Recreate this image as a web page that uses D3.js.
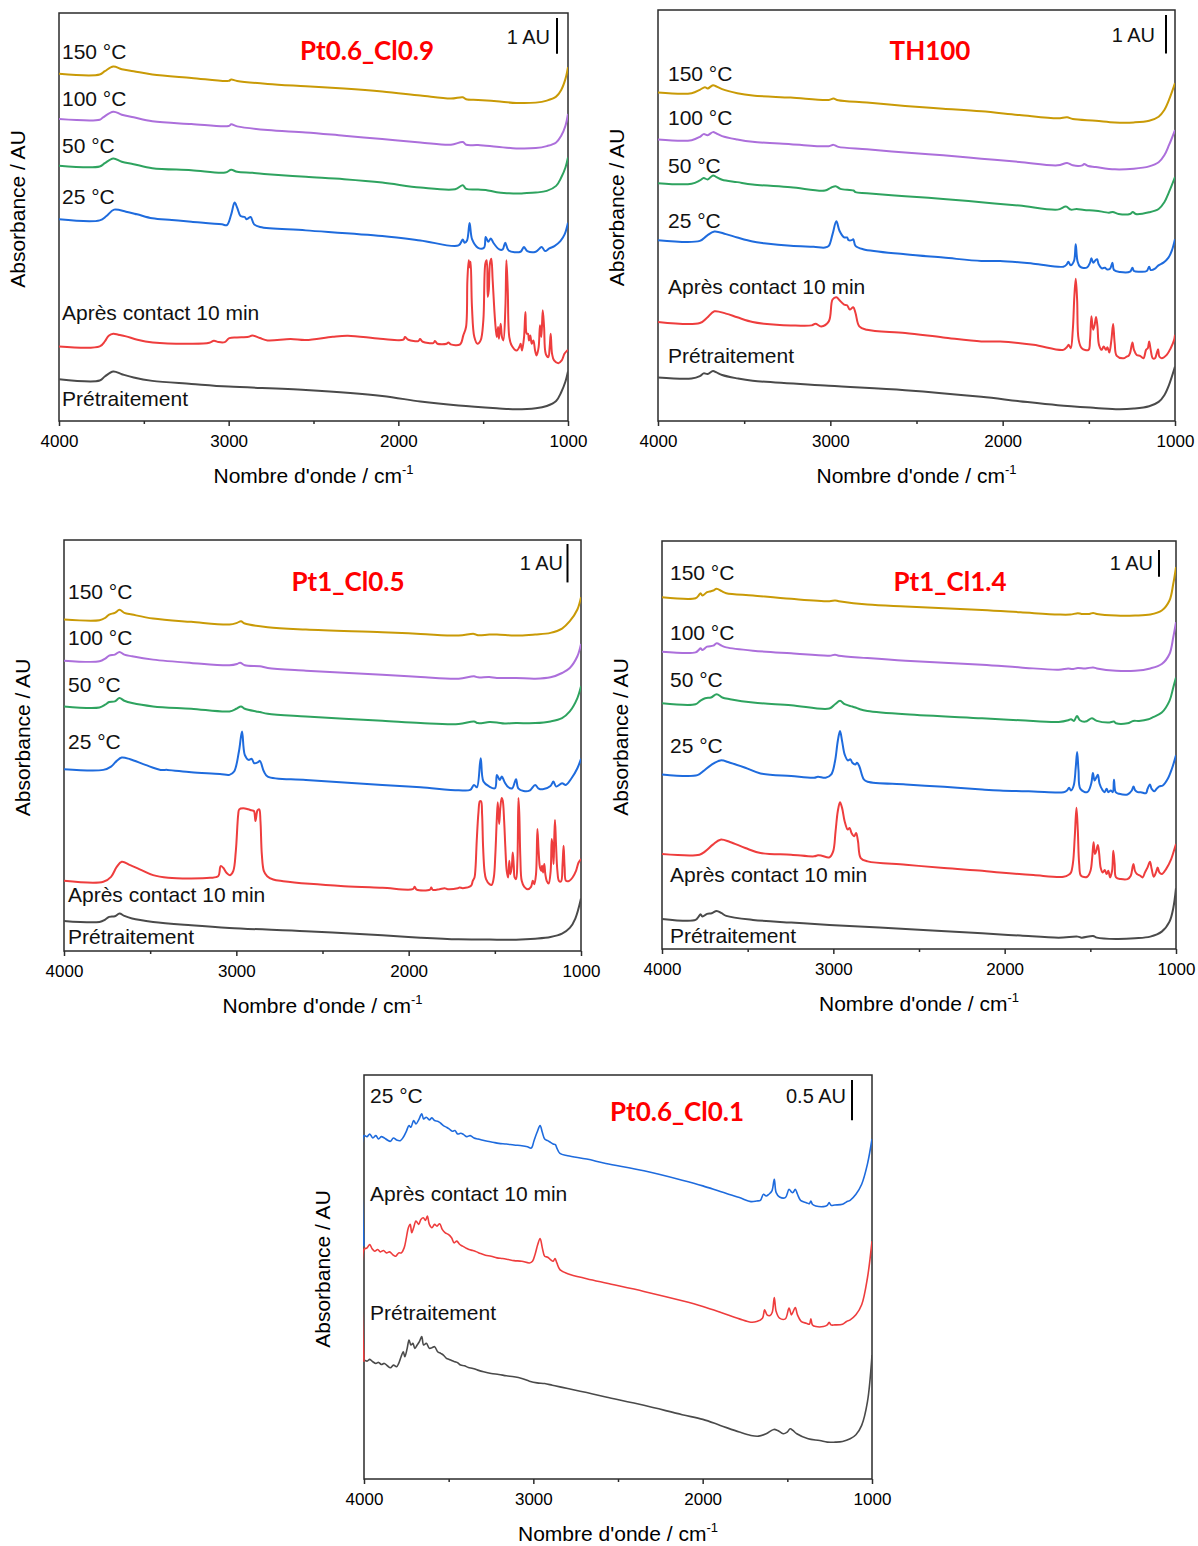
<!DOCTYPE html>
<html><head><meta charset="utf-8">
<script src="https://cdn.jsdelivr.net/npm/d3@7"></script>
<style>body{margin:0;background:#fff}</style>
</head><body>
<svg id="c" width="1198" height="1546"></svg>
<script>
// ---------- shared axis / labels ----------
const xTicks = [4000, 3000, 2000, 1000];
const xMinorTicks = [3500, 2500, 1500];
const seriesLabels = ["150 °C", "100 °C", "50 °C", "25 °C", "Après contact 10 min", "Prétraitement"];
const seriesLabelsP5 = ["25 °C", "Après contact 10 min", "Prétraitement"];
const panelTitles = ["Pt0.6_Cl0.9", "TH100", "Pt1_Cl0.5", "Pt1_Cl1.4", "Pt0.6_Cl0.1"];
const scaleBarLabels = ["1 AU", "1 AU", "1 AU", "1 AU", "0.5 AU"];
const scaleBarLengths = [1.07, 1.15, 1.15, 0.80, 1.20]; // in panel data units
const yMax = [12.20, 12.25, 12.30, 12.20, 12.06];

// ---------- Panel 1 : Pt0.6_Cl0.9 ----------
const p1_150 = [[4000,10.38],[3760,10.36],[3730,10.46],[3680,10.60],[3630,10.52],[3560,10.46],[3450,10.36],[3220,10.26],[3000,10.17],[2985,10.21],[2950,10.17],[2770,10.08],[2545,10.01],[2320,9.94],[2095,9.85],[1870,9.73],[1690,9.64],[1620,9.68],[1600,9.62],[1530,9.60],[1420,9.56],[1305,9.51],[1190,9.52],[1125,9.58],[1070,9.70],[1040,9.90],[1015,10.23],[1000,10.58]];
const p1_100 = [[4000,9.03],[3760,9.01],[3740,9.08],[3680,9.25],[3630,9.16],[3560,9.08],[3450,8.96],[3220,8.88],[3000,8.82],[2985,8.87],[2950,8.81],[2770,8.70],[2545,8.63],[2320,8.53],[2095,8.43],[1870,8.33],[1690,8.26],[1620,8.34],[1600,8.26],[1530,8.25],[1420,8.20],[1305,8.15],[1190,8.16],[1125,8.22],[1070,8.33],[1040,8.53],[1015,8.83],[1000,9.18]];
const p1_50 = [[4000,7.63],[3760,7.61],[3730,7.71],[3680,7.85],[3630,7.75],[3560,7.68],[3450,7.56],[3220,7.50],[3020,7.43],[2985,7.51],[2950,7.45],[2860,7.42],[2770,7.38],[2545,7.30],[2320,7.23],[2095,7.13],[1870,6.98],[1665,6.93],[1620,7.05],[1600,6.94],[1530,6.92],[1485,6.91],[1420,6.84],[1350,6.81],[1305,6.80],[1260,6.81],[1190,6.83],[1125,6.88],[1070,7.03],[1040,7.28],[1015,7.58],[1000,7.88]];
const p1_25 = [[4000,6.03],[3760,6.00],[3720,6.13],[3675,6.32],[3605,6.26],[3540,6.18],[3450,6.06],[3335,6.01],[3220,5.96],[3040,5.88],[3010,5.86],[2985,6.18],[2965,6.53],[2950,6.38],[2930,6.13],[2905,6.10],[2895,6.03],[2885,6.06],[2870,6.10],[2850,5.88],[2815,5.80],[2545,5.70],[2095,5.53],[1870,5.40],[1645,5.25],[1620,5.43],[1610,5.33],[1595,5.40],[1580,5.92],[1565,5.43],[1530,5.18],[1495,5.18],[1485,5.50],[1470,5.36],[1455,5.46],[1440,5.33],[1405,5.13],[1385,5.13],[1370,5.33],[1350,5.10],[1280,5.06],[1260,5.20],[1240,5.08],[1190,5.06],[1155,5.20],[1135,5.08],[1110,5.16],[1080,5.23],[1045,5.38],[1020,5.58],[1000,5.93]];
const p1_contact = [[4000,2.23],[3760,2.23],[3730,2.38],[3707,2.55],[3680,2.61],[3650,2.58],[3605,2.53],[3538,2.43],[3447,2.35],[3222,2.31],[3114,2.34],[3087,2.40],[3060,2.36],[3023,2.36],[2996,2.48],[2951,2.50],[2883,2.52],[2861,2.56],[2816,2.48],[2771,2.41],[2635,2.45],[2545,2.42],[2387,2.52],[2297,2.55],[2108,2.46],[1970,2.43],[1961,2.51],[1941,2.43],[1882,2.39],[1872,2.45],[1856,2.37],[1794,2.33],[1784,2.39],[1770,2.31],[1715,2.31],[1705,2.35],[1691,2.29],[1636,2.29],[1617,2.56],[1601,2.81],[1593,4.21],[1585,4.81],[1579,4.59],[1574,4.76],[1566,3.41],[1552,2.51],[1534,2.31],[1515,2.41],[1499,3.01],[1487,4.71],[1479,4.81],[1473,3.71],[1467,3.91],[1460,4.71],[1452,4.85],[1444,4.21],[1430,3.01],[1420,2.51],[1412,2.81],[1407,2.46],[1397,2.91],[1389,2.51],[1381,2.41],[1369,3.41],[1363,4.81],[1355,3.91],[1346,2.51],[1332,2.26],[1302,2.11],[1287,2.21],[1279,2.31],[1271,2.11],[1259,2.51],[1251,3.26],[1243,2.61],[1236,2.61],[1230,2.41],[1222,2.56],[1214,2.31],[1204,2.41],[1194,2.11],[1185,1.96],[1173,2.21],[1165,2.86],[1157,2.51],[1149,3.31],[1141,2.81],[1131,2.01],[1116,1.91],[1108,2.21],[1102,2.61],[1094,2.01],[1082,1.81],[1057,1.73],[1037,1.81],[1021,2.01],[1008,2.09],[1000,2.12]];
const p1_pretrait = [[4000,1.25],[3760,1.21],[3730,1.33],[3680,1.48],[3630,1.40],[3560,1.30],[3450,1.20],[3220,1.11],[3000,1.03],[2545,0.93],[2095,0.75],[1870,0.58],[1645,0.46],[1420,0.38],[1305,0.35],[1190,0.38],[1125,0.45],[1070,0.60],[1040,0.86],[1015,1.18],[1000,1.48]];

// ---------- Panel 2 : TH100 ----------
const p2_150 = [[4000,9.79],[3805,9.77],[3757,9.87],[3728,9.95],[3712,9.91],[3681,10.01],[3661,9.97],[3628,9.89],[3540,9.77],[3451,9.70],[3230,9.64],[3009,9.57],[2982,9.61],[2954,9.56],[2788,9.49],[2566,9.39],[2345,9.31],[2124,9.23],[1903,9.12],[1681,9.02],[1626,9.05],[1593,9.00],[1460,8.95],[1349,8.90],[1239,8.90],[1150,8.95],[1095,9.07],[1062,9.27],[1035,9.57],[1000,10.07]];
const p2_100 = [[4000,8.39],[3805,8.37],[3757,8.47],[3735,8.55],[3712,8.52],[3681,8.61],[3661,8.57],[3628,8.49],[3540,8.39],[3451,8.32],[3230,8.25],[3009,8.19],[2982,8.23],[2954,8.17],[2788,8.10],[2566,8.00],[2345,7.92],[2124,7.82],[1903,7.72],[1681,7.62],[1626,7.69],[1593,7.62],[1538,7.62],[1527,7.66],[1504,7.60],[1460,7.57],[1349,7.50],[1239,7.52],[1150,7.59],[1095,7.71],[1062,7.92],[1035,8.22],[1000,8.67]];
const p2_50 = [[4000,7.09],[3805,7.07],[3757,7.17],[3735,7.24],[3712,7.20],[3681,7.32],[3661,7.27],[3628,7.19],[3540,7.12],[3451,7.05],[3230,6.97],[3031,6.87],[2998,6.95],[2969,7.00],[2942,6.92],[2865,6.87],[2854,6.82],[2788,6.79],[2566,6.70],[2345,6.62],[2124,6.52],[1903,6.42],[1681,6.30],[1633,6.39],[1604,6.30],[1571,6.32],[1527,6.29],[1460,6.27],[1383,6.21],[1361,6.23],[1327,6.17],[1261,6.17],[1245,6.23],[1228,6.17],[1150,6.22],[1095,6.32],[1062,6.52],[1035,6.82],[1000,7.27]];
const p2_25 = [[4000,5.39],[3757,5.37],[3717,5.52],[3673,5.65],[3606,5.57],[3540,5.47],[3451,5.35],[3385,5.30],[3230,5.22],[3097,5.19],[3031,5.17],[3009,5.22],[2987,5.57],[2965,5.95],[2947,5.67],[2920,5.47],[2903,5.47],[2894,5.39],[2876,5.39],[2867,5.42],[2854,5.22],[2810,5.12],[2566,4.97],[2345,4.87],[2124,4.77],[2015,4.77],[1822,4.69],[1648,4.60],[1628,4.67],[1619,4.75],[1605,4.64],[1586,4.77],[1576,5.27],[1566,4.77],[1551,4.60],[1512,4.57],[1493,4.72],[1485,4.85],[1474,4.72],[1460,4.80],[1452,4.82],[1443,4.67],[1425,4.55],[1406,4.57],[1396,4.52],[1377,4.54],[1363,4.72],[1354,4.50],[1319,4.44],[1261,4.45],[1247,4.57],[1238,4.47],[1203,4.45],[1164,4.47],[1150,4.60],[1141,4.50],[1116,4.54],[1096,4.64],[1067,4.72],[1038,4.87],[1019,5.07],[1000,5.42]];
const p2_contact = [[4000,2.95],[3757,2.92],[3717,3.07],[3673,3.27],[3606,3.20],[3540,3.09],[3451,2.95],[3385,2.90],[3230,2.85],[3108,2.85],[3086,2.90],[3053,2.82],[3009,2.97],[2987,3.62],[2965,3.69],[2947,3.60],[2920,3.47],[2903,3.45],[2887,3.32],[2867,3.39],[2854,3.22],[2832,2.82],[2788,2.72],[2566,2.62],[2345,2.49],[2124,2.37],[2015,2.37],[1822,2.27],[1648,2.12],[1628,2.20],[1617,2.27],[1605,2.17],[1593,2.72],[1584,3.72],[1576,4.24],[1568,3.62],[1559,2.42],[1541,2.17],[1502,2.12],[1493,2.42],[1485,3.12],[1475,2.72],[1466,2.87],[1458,3.10],[1450,2.82],[1441,2.27],[1425,2.12],[1414,2.22],[1400,2.12],[1392,2.20],[1381,2.04],[1369,2.42],[1359,2.89],[1350,2.32],[1338,1.94],[1299,1.87],[1280,1.92],[1270,1.94],[1261,2.02],[1247,2.34],[1238,2.12],[1222,1.97],[1203,1.94],[1183,1.87],[1168,2.12],[1158,2.17],[1150,2.37],[1141,2.12],[1129,1.87],[1116,1.87],[1106,2.02],[1098,2.14],[1091,1.92],[1077,1.87],[1048,1.97],[1025,2.17],[1005,2.42],[1000,2.57]];
const p2_pretrait = [[4000,1.30],[3805,1.27],[3757,1.34],[3735,1.42],[3712,1.40],[3681,1.49],[3661,1.45],[3628,1.37],[3540,1.27],[3451,1.20],[3009,1.05],[2566,0.92],[2124,0.72],[1903,0.59],[1681,0.47],[1460,0.39],[1327,0.35],[1239,0.37],[1150,0.44],[1095,0.57],[1062,0.77],[1035,1.07],[1000,1.62]];

// ---------- Panel 3 : Pt1_Cl0.5 ----------
const p3_150 = [[4000,9.92],[3794,9.90],[3761,9.97],[3738,10.07],[3705,10.12],[3678,10.21],[3650,10.12],[3605,10.07],[3483,9.95],[3262,9.85],[3040,9.77],[2996,9.82],[2973,9.87],[2951,9.80],[2818,9.69],[2596,9.62],[2153,9.54],[1931,9.49],[1710,9.44],[1621,9.49],[1598,9.45],[1532,9.47],[1488,9.47],[1355,9.44],[1266,9.47],[1177,9.52],[1110,9.65],[1065,9.87],[1021,10.22],[1000,10.59]];
const p3_100 = [[4000,8.69],[3794,8.67],[3761,8.75],[3738,8.84],[3705,8.87],[3678,8.95],[3650,8.87],[3605,8.82],[3483,8.72],[3262,8.62],[3040,8.55],[2996,8.59],[2978,8.63],[2951,8.55],[2863,8.52],[2818,8.47],[2596,8.39],[2153,8.27],[1931,8.20],[1710,8.15],[1621,8.22],[1598,8.19],[1532,8.20],[1488,8.17],[1377,8.17],[1266,8.15],[1177,8.19],[1110,8.32],[1065,8.47],[1021,8.82],[1000,9.19]];
const p3_50 = [[4000,7.32],[3794,7.29],[3761,7.37],[3738,7.45],[3705,7.47],[3678,7.57],[3650,7.49],[3605,7.42],[3483,7.32],[3262,7.25],[3040,7.17],[3000,7.25],[2973,7.32],[2951,7.25],[2885,7.17],[2863,7.15],[2818,7.10],[2596,7.02],[2153,6.89],[1931,6.82],[1710,6.79],[1621,6.87],[1598,6.82],[1532,6.85],[1488,6.84],[1443,6.81],[1377,6.82],[1266,6.82],[1177,6.87],[1110,6.97],[1065,7.17],[1021,7.57],[1000,7.92]];
const p3_25 = [[4000,5.44],[3772,5.42],[3727,5.52],[3694,5.69],[3665,5.79],[3616,5.74],[3528,5.57],[3439,5.42],[3399,5.42],[3262,5.35],[3095,5.30],[3040,5.27],[3013,5.37],[2985,5.97],[2967,6.57],[2951,5.87],[2929,5.72],[2911,5.75],[2896,5.62],[2874,5.65],[2863,5.69],[2840,5.37],[2818,5.22],[2596,5.12],[2153,4.97],[1931,4.90],[1710,4.81],[1643,4.82],[1621,4.97],[1604,4.90],[1582,5.77],[1566,5.07],[1532,4.92],[1499,4.87],[1488,5.27],[1472,5.12],[1459,5.22],[1443,5.05],[1421,4.90],[1399,4.87],[1377,5.14],[1364,4.87],[1333,4.79],[1299,4.80],[1266,4.97],[1248,4.87],[1222,4.84],[1177,4.94],[1160,5.07],[1144,4.92],[1110,5.02],[1088,4.97],[1055,5.17],[1021,5.47],[1000,5.75]];
const p3_contact = [[4000,2.10],[3772,2.07],[3727,2.22],[3694,2.52],[3665,2.67],[3616,2.57],[3550,2.42],[3483,2.27],[3395,2.19],[3262,2.17],[3153,2.19],[3105,2.24],[3091,2.54],[3076,2.49],[3057,2.34],[3037,2.27],[3018,2.39],[3003,2.99],[2989,4.09],[2983,4.24],[2960,4.27],[2931,4.24],[2912,4.21],[2898,4.19],[2889,3.89],[2877,4.21],[2867,4.24],[2860,3.89],[2852,2.89],[2840,2.39],[2821,2.24],[2786,2.14],[2728,2.09],[2574,2.01],[2375,1.94],[2153,1.89],[1976,1.85],[1965,1.92],[1954,1.84],[1876,1.84],[1869,1.90],[1860,1.83],[1821,1.85],[1792,1.88],[1773,1.85],[1715,1.88],[1705,1.90],[1686,1.88],[1638,1.95],[1628,2.10],[1618,2.20],[1612,2.50],[1605,3.30],[1595,4.15],[1587,4.48],[1580,4.48],[1574,4.10],[1568,3.10],[1560,2.40],[1551,2.15],[1531,2.00],[1518,1.98],[1506,2.20],[1497,2.90],[1489,3.90],[1483,4.45],[1475,3.80],[1468,4.30],[1460,4.58],[1454,4.50],[1446,3.90],[1439,3.10],[1431,2.40],[1423,2.20],[1416,2.70],[1410,2.30],[1402,2.50],[1396,2.95],[1390,2.55],[1385,2.20],[1377,2.15],[1369,2.70],[1363,4.58],[1358,4.10],[1352,2.80],[1344,2.10],[1329,1.92],[1309,1.85],[1290,1.92],[1280,2.10],[1271,2.00],[1261,2.30],[1253,3.65],[1246,3.00],[1238,2.50],[1230,2.40],[1226,2.55],[1220,2.35],[1213,2.60],[1207,2.30],[1199,2.10],[1188,2.02],[1176,2.40],[1170,3.35],[1164,3.10],[1159,2.60],[1155,3.40],[1151,3.92],[1145,3.20],[1137,2.40],[1128,2.10],[1116,2.08],[1107,2.60],[1101,3.15],[1095,2.50],[1087,2.10],[1068,2.10],[1049,2.20],[1029,2.40],[1014,2.65],[1000,2.75]];
const p3_pretrait = [[4000,0.90],[3794,0.87],[3761,0.94],[3738,1.02],[3705,1.04],[3678,1.12],[3650,1.05],[3605,0.97],[3483,0.87],[3262,0.77],[3040,0.69],[2596,0.59],[2153,0.47],[1931,0.40],[1710,0.35],[1488,0.34],[1377,0.34],[1266,0.37],[1177,0.42],[1110,0.52],[1065,0.69],[1033,0.97],[1000,1.57]];

// ---------- Panel 4 : Pt1_Cl1.4 ----------
const p4_150 = [[4000,10.52],[3804,10.49],[3786,10.57],[3775,10.64],[3764,10.57],[3737,10.67],[3714,10.70],[3701,10.72],[3681,10.77],[3652,10.70],[3625,10.64],[3469,10.57],[3246,10.47],[3023,10.40],[2990,10.42],[2968,10.40],[2801,10.30],[2578,10.24],[2132,10.14],[1908,10.07],[1685,10.00],[1618,10.00],[1573,10.04],[1551,10.02],[1506,10.02],[1484,10.05],[1462,10.02],[1350,9.97],[1239,9.97],[1150,10.00],[1083,10.12],[1038,10.42],[1016,10.92],[1000,11.42]];
const p4_100 = [[4000,8.89],[3804,8.87],[3786,8.94],[3775,8.99],[3764,8.94],[3737,9.04],[3701,9.07],[3681,9.14],[3652,9.07],[3625,9.02],[3469,8.92],[3246,8.84],[3023,8.77],[2990,8.80],[2968,8.77],[2801,8.70],[2578,8.62],[2132,8.50],[1908,8.42],[1685,8.35],[1629,8.39],[1607,8.37],[1573,8.40],[1529,8.39],[1484,8.42],[1462,8.39],[1350,8.32],[1239,8.32],[1150,8.39],[1083,8.52],[1038,8.82],[1016,9.32],[1000,9.77]];
const p4_50 = [[4000,7.35],[3804,7.32],[3777,7.42],[3748,7.50],[3714,7.52],[3681,7.62],[3648,7.52],[3603,7.47],[3469,7.37],[3246,7.29],[3023,7.19],[2990,7.32],[2961,7.42],[2934,7.32],[2889,7.25],[2871,7.22],[2845,7.17],[2801,7.12],[2578,7.02],[2132,6.90],[1908,6.84],[1685,6.79],[1629,6.84],[1613,6.87],[1596,6.82],[1578,6.97],[1561,6.84],[1529,6.80],[1491,6.90],[1473,6.85],[1462,6.82],[1395,6.77],[1362,6.80],[1350,6.75],[1283,6.75],[1250,6.82],[1216,6.82],[1161,6.87],[1139,6.92],[1083,7.07],[1038,7.42],[1016,7.82],[1000,8.12]];
const p4_25 = [[4000,5.22],[3793,5.20],[3759,5.32],[3714,5.50],[3659,5.64],[3603,5.57],[3514,5.42],[3425,5.25],[3246,5.17],[3112,5.12],[3090,5.15],[3045,5.12],[3012,5.22],[2990,5.62],[2974,6.22],[2961,6.52],[2949,6.22],[2934,5.82],[2916,5.64],[2900,5.67],[2889,5.57],[2871,5.52],[2862,5.57],[2849,5.47],[2822,5.07],[2800,5.00],[2577,4.92],[2354,4.85],[2131,4.77],[2028,4.74],[1832,4.71],[1656,4.69],[1636,4.74],[1624,4.82],[1613,4.74],[1597,4.89],[1585,5.44],[1577,5.89],[1569,5.34],[1558,4.79],[1518,4.69],[1495,4.94],[1485,5.26],[1475,5.04],[1464,5.14],[1456,5.21],[1446,4.94],[1430,4.76],[1417,4.69],[1405,4.79],[1395,4.69],[1381,4.74],[1369,4.69],[1362,5.06],[1352,4.69],[1332,4.64],[1283,4.62],[1258,4.74],[1248,4.86],[1238,4.74],[1224,4.69],[1205,4.69],[1175,4.66],[1166,4.79],[1152,4.92],[1142,4.79],[1126,4.72],[1113,4.79],[1097,4.86],[1077,4.89],[1048,5.09],[1024,5.39],[1000,5.79]];
const p4_contact = [[4000,2.84],[3781,2.82],[3748,2.92],[3703,3.12],[3659,3.27],[3603,3.20],[3514,3.02],[3425,2.87],[3246,2.82],[3112,2.77],[3090,2.80],[3068,2.79],[3023,2.74],[3001,2.92],[2987,3.52],[2974,4.12],[2961,4.39],[2949,4.22],[2934,3.82],[2916,3.57],[2905,3.62],[2894,3.47],[2878,3.37],[2867,3.47],[2856,3.22],[2840,2.72],[2800,2.62],[2577,2.52],[2354,2.42],[2131,2.34],[2028,2.29],[1832,2.21],[1656,2.16],[1626,2.22],[1613,2.29],[1601,2.59],[1591,3.34],[1581,4.22],[1573,3.54],[1565,2.54],[1554,2.19],[1518,2.16],[1499,2.34],[1489,2.74],[1481,3.19],[1473,2.84],[1465,2.94],[1456,3.11],[1448,2.84],[1440,2.44],[1428,2.29],[1416,2.36],[1405,2.24],[1395,2.34],[1385,2.14],[1373,2.34],[1366,2.94],[1358,2.54],[1350,2.14],[1322,2.09],[1283,2.09],[1264,2.19],[1254,2.44],[1248,2.54],[1240,2.34],[1228,2.24],[1209,2.19],[1195,2.14],[1181,2.29],[1166,2.44],[1152,2.61],[1142,2.39],[1130,2.16],[1117,2.29],[1107,2.44],[1097,2.29],[1083,2.24],[1058,2.39],[1028,2.69],[1009,2.99],[1000,3.14]];
const p4_pretrait = [[4000,0.90],[3804,0.87],[3786,0.97],[3775,1.04],[3764,0.97],[3737,1.05],[3710,1.07],[3681,1.14],[3652,1.07],[3625,0.99],[3469,0.87],[3246,0.79],[3023,0.72],[2578,0.60],[2132,0.47],[1908,0.40],[1685,0.34],[1573,0.37],[1551,0.34],[1484,0.39],[1462,0.34],[1350,0.30],[1239,0.32],[1150,0.37],[1083,0.52],[1038,0.82],[1016,1.22],[1000,1.82]];

// ---------- Panel 5 : Pt0.6_Cl0.1 ----------
const p5_25 = [[4000,6.95],[4000,10.25],[3982,10.22],[3966,10.30],[3948,10.18],[3930,10.25],[3914,10.15],[3898,10.22],[3880,10.18],[3862,10.12],[3844,10.08],[3826,10.18],[3808,10.12],[3786,10.10],[3768,10.20],[3750,10.38],[3734,10.55],[3723,10.50],[3707,10.70],[3693,10.60],[3677,10.72],[3659,10.90],[3648,10.75],[3632,10.80],[3614,10.72],[3599,10.78],[3583,10.70],[3565,10.68],[3547,10.62],[3531,10.55],[3513,10.50],[3497,10.45],[3479,10.38],[3463,10.40],[3447,10.30],[3429,10.32],[3411,10.28],[3393,10.22],[3373,10.25],[3350,10.18],[3328,10.15],[3305,10.12],[3271,10.08],[3238,10.05],[3204,10.02],[3159,10.00],[3114,9.97],[3068,9.95],[3035,9.92],[3012,9.88],[2996,10.10],[2978,10.35],[2960,10.55],[2947,10.35],[2933,10.15],[2915,10.10],[2899,10.05],[2883,10.00],[2870,9.98],[2861,9.88],[2843,9.72],[2797,9.65],[2685,9.55],[2572,9.42],[2347,9.20],[2121,8.92],[1999,8.75],[1896,8.58],[1783,8.40],[1715,8.28],[1681,8.30],[1659,8.32],[1641,8.50],[1625,8.45],[1609,8.50],[1591,8.60],[1577,8.95],[1566,8.55],[1546,8.42],[1512,8.40],[1490,8.65],[1478,8.58],[1467,8.55],[1453,8.65],[1440,8.50],[1422,8.32],[1388,8.25],[1370,8.22],[1361,8.30],[1352,8.20],[1332,8.15],[1287,8.13],[1264,8.17],[1253,8.25],[1242,8.17],[1219,8.18],[1174,8.20],[1151,8.27],[1129,8.32],[1095,8.50],[1061,8.80],[1027,9.40],[1000,10.15]];
const p5_contact = [[4000,3.50],[4000,6.85],[3982,6.90],[3966,7.00],[3953,6.88],[3937,6.80],[3919,6.85],[3903,6.78],[3885,6.82],[3867,6.75],[3849,6.78],[3831,6.70],[3813,6.65],[3795,6.75],[3779,6.75],[3763,6.90],[3750,7.20],[3738,7.50],[3727,7.60],[3718,7.35],[3707,7.50],[3693,7.70],[3677,7.60],[3664,7.75],[3650,7.80],[3637,7.72],[3626,7.85],[3614,7.60],[3599,7.50],[3583,7.60],[3569,7.55],[3553,7.62],[3538,7.45],[3520,7.35],[3502,7.30],[3483,7.20],[3468,7.05],[3452,7.10],[3434,7.00],[3418,6.95],[3400,6.90],[3380,6.85],[3357,6.82],[3335,6.78],[3312,6.73],[3283,6.68],[3249,6.65],[3215,6.60],[3181,6.58],[3147,6.55],[3114,6.52],[3068,6.50],[3023,6.45],[3005,6.50],[2989,6.72],[2974,7.00],[2960,7.18],[2947,6.90],[2933,6.65],[2915,6.62],[2899,6.55],[2883,6.50],[2872,6.58],[2861,6.45],[2843,6.25],[2797,6.13],[2685,5.98],[2572,5.85],[2347,5.60],[2121,5.32],[1999,5.15],[1896,4.98],[1783,4.78],[1715,4.68],[1681,4.70],[1647,4.80],[1634,5.05],[1620,4.90],[1602,4.88],[1589,4.98],[1577,5.42],[1566,5.00],[1546,4.80],[1512,4.78],[1490,5.10],[1476,4.90],[1467,4.98],[1453,5.12],[1440,4.90],[1417,4.70],[1388,4.65],[1370,4.62],[1361,4.78],[1352,4.60],[1332,4.55],[1287,4.55],[1264,4.60],[1253,4.68],[1242,4.60],[1219,4.60],[1174,4.62],[1151,4.70],[1129,4.75],[1095,4.90],[1061,5.20],[1027,6.00],[1000,7.10]];
const p5_pretrait = [[4000,3.55],[3982,3.52],[3966,3.57],[3948,3.50],[3930,3.45],[3914,3.48],[3898,3.42],[3880,3.45],[3862,3.38],[3844,3.32],[3826,3.40],[3808,3.35],[3795,3.45],[3781,3.65],[3768,3.80],[3759,3.65],[3745,3.90],[3734,4.15],[3723,4.00],[3711,4.05],[3700,3.90],[3686,4.00],[3673,4.10],[3659,4.25],[3648,4.00],[3632,4.05],[3614,3.90],[3599,3.92],[3583,3.95],[3565,3.80],[3547,3.75],[3531,3.70],[3513,3.60],[3497,3.57],[3479,3.53],[3463,3.50],[3447,3.47],[3429,3.40],[3407,3.38],[3384,3.33],[3357,3.30],[3328,3.25],[3294,3.20],[3249,3.15],[3204,3.12],[3159,3.08],[3114,3.05],[3068,3.00],[3023,2.92],[2978,2.87],[2933,2.85],[2888,2.80],[2843,2.75],[2797,2.70],[2685,2.58],[2572,2.45],[2347,2.20],[2121,1.92],[1999,1.78],[1896,1.60],[1783,1.40],[1715,1.30],[1670,1.28],[1625,1.35],[1580,1.48],[1557,1.45],[1524,1.35],[1501,1.40],[1483,1.50],[1467,1.45],[1444,1.35],[1377,1.20],[1309,1.15],[1264,1.10],[1219,1.10],[1174,1.12],[1129,1.20],[1095,1.32],[1061,1.60],[1027,2.30],[1000,3.70]];

// ---------- styling / layout ----------
const COL = {g150:"#C99A06", g100:"#AC6FDB", g50:"#2EA35F", g25:"#1E6BDD", contact:"#EE3D3D", pre:"#4A4A4A"};
const FONT = "'Liberation Sans', Arial, sans-serif";
const TFONT = "Lato, 'Open Sans', sans-serif";

const layout = [
  {box:{l:59,r:568,t:13,b:421},  lx:3,  ly:[38,85,132,183,299,385], title:[367,51], bar:{tx:550,ty:36,x:557,top:18}, lw:2},
  {box:{l:658,r:1175,t:10,b:421}, lx:10, ly:[63,107,155,210,276,345], title:[930,51], bar:{tx:1155,ty:34,x:1166,top:15}, lw:2},
  {box:{l:64,r:581,t:540,b:951}, lx:4,  ly:[51,97,144,201,354,396], title:[348,582], bar:{tx:563,ty:562,x:567.5,top:544}, lw:2},
  {box:{l:662,r:1176,t:541,b:949}, lx:8, ly:[31,91,138,204,333,394], title:[950,582], bar:{tx:1153,ty:562,x:1159,top:550}, lw:2},
  {box:{l:364,r:872,t:1075,b:1479}, lx:6, ly:[20,118,237], title:[677,1112], bar:{tx:846,ty:1095,x:852,top:1080}, lw:1.6}
];
const seriesSets = [
  [[p1_150,COL.g150],[p1_100,COL.g100],[p1_50,COL.g50],[p1_25,COL.g25],[p1_contact,COL.contact],[p1_pretrait,COL.pre]],
  [[p2_150,COL.g150],[p2_100,COL.g100],[p2_50,COL.g50],[p2_25,COL.g25],[p2_contact,COL.contact],[p2_pretrait,COL.pre]],
  [[p3_150,COL.g150],[p3_100,COL.g100],[p3_50,COL.g50],[p3_25,COL.g25],[p3_contact,COL.contact],[p3_pretrait,COL.pre]],
  [[p4_150,COL.g150],[p4_100,COL.g100],[p4_50,COL.g50],[p4_25,COL.g25],[p4_contact,COL.contact],[p4_pretrait,COL.pre]],
  [[p5_25,COL.g25],[p5_contact,COL.contact],[p5_pretrait,COL.pre]]
];

const svg = d3.select("#c");
svg.append("rect").attr("width",1198).attr("height",1546).attr("fill","#fff");
const defs = svg.append("defs");

layout.forEach((L, i) => {
  const B = L.box;
  const x = d3.scaleLinear().domain([4000, 1000]).range([B.l, B.r]);
  const y = d3.scaleLinear().domain([0, yMax[i]]).range([B.b, B.t]);
  const g = svg.append("g");
  const line = d3.line().x(d => x(d[0])).y(d => y(d[1])).curve(d3.curveCatmullRom.alpha(0.5));

  const padL = i === 4 ? 1 : 0;
  defs.append("clipPath").attr("id", "clip" + i).append("rect")
    .attr("x", B.l - padL).attr("y", B.t).attr("width", B.r - B.l + padL).attr("height", B.b - B.t);

  // frame
  g.append("rect").attr("x", B.l).attr("y", B.t)
    .attr("width", B.r - B.l).attr("height", B.b - B.t)
    .attr("fill", "none").attr("stroke", "#2b2b2b").attr("stroke-width", 1.5);

  const gl = g.append("g").attr("clip-path", `url(#clip${i})`);
  seriesSets[i].slice().reverse().forEach(([data, color]) => {
    gl.append("path").attr("d", line(data)).attr("fill", "none")
      .attr("stroke", color).attr("stroke-width", L.lw)
      .attr("stroke-linejoin", "round");
  });

  // x axis: major + minor ticks
  const major = d3.axisBottom(x).tickValues(xTicks).tickSize(5).tickPadding(9).tickFormat(d3.format("d"));
  const minor = d3.axisBottom(x).tickValues(xMinorTicks).tickSize(3).tickFormat("");
  const ga = g.append("g").attr("transform", `translate(0,${B.b})`).call(major);
  ga.select(".domain").remove();
  ga.attr("font-family", FONT).attr("font-size", 17);
  ga.selectAll(".tick line").attr("stroke", "#2b2b2b").attr("stroke-width", 1.5);
  ga.selectAll(".tick text").attr("fill", "#000");
  const gm = g.append("g").attr("transform", `translate(0,${B.b})`).call(minor);
  gm.select(".domain").remove();
  gm.selectAll(".tick line").attr("stroke", "#2b2b2b").attr("stroke-width", 1.5);

  // axis titles
  const xt = g.append("text").attr("x", (B.l + B.r) / 2).attr("y", B.b + 62)
    .attr("text-anchor", "middle").attr("font-family", FONT).attr("font-size", 21).attr("fill", "#000");
  xt.append("tspan").text("Nombre d'onde / cm");
  xt.append("tspan").attr("font-size", 13).attr("dy", -9).text("-1");

  g.append("text")
    .attr("transform", `translate(${B.l - 34},${(B.t + B.b) / 2 - 8}) rotate(-90)`)
    .attr("text-anchor", "middle").attr("font-family", FONT).attr("font-size", 21).attr("fill", "#000")
    .text("Absorbance / AU");

  // series labels
  const labs = i === 4 ? seriesLabelsP5 : seriesLabels;
  labs.forEach((t, k) => {
    g.append("text").attr("x", B.l + L.lx).attr("y", B.t + L.ly[k] + 7.5)
      .attr("font-family", FONT).attr("font-size", 21).attr("fill", "#111").text(t);
  });

  // panel title
  g.append("text").attr("x", L.title[0]).attr("y", L.title[1] + 9)
    .attr("text-anchor", "middle").attr("font-family", TFONT).attr("font-weight", "bold")
    .attr("font-size", 26).attr("fill", "#FF0000").text(panelTitles[i]);

  // scale bar
  const barPx = y(0) - y(scaleBarLengths[i]);
  g.append("line").attr("x1", L.bar.x).attr("x2", L.bar.x)
    .attr("y1", L.bar.top).attr("y2", L.bar.top + barPx)
    .attr("stroke", "#000").attr("stroke-width", 2);
  g.append("text").attr("x", L.bar.tx).attr("y", L.bar.ty + 7.5)
    .attr("text-anchor", "end").attr("font-family", FONT).attr("font-size", 20).attr("fill", "#111")
    .text(scaleBarLabels[i]);
});
</script>
</body></html>
